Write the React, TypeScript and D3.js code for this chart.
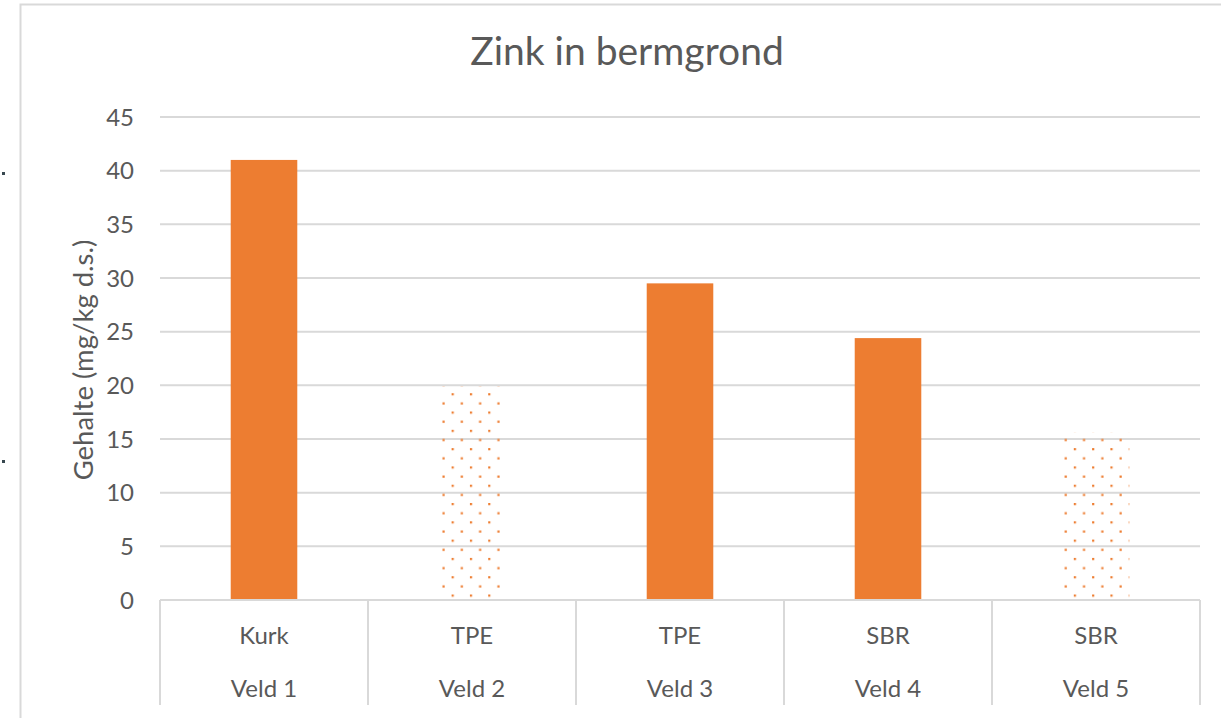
import React from 'react'
import * as d3 from 'd3'

// data
const materials = ['Kurk', 'TPE', 'TPE', 'SBR', 'SBR']
const fields = ['Veld 1', 'Veld 2', 'Veld 3', 'Veld 4', 'Veld 5']
const zinc = [41, 19.9, 29.5, 24.4, 15.6]
const dotted = [false, true, false, false, true]
const yTicks = [0, 5, 10, 15, 20, 25, 30, 35, 40, 45]

const W = 1221
const H = 718
const margin = {top: 117, right: 21, bottom: 118, left: 160}
const orange = '#ED7D31'
const grid = '#d9d9d9'
const textColor = '#595959'
const font = 'Lato, "Liberation Sans", sans-serif'

export default function App() {
  const innerW = W - margin.left - margin.right
  const innerH = H - margin.top - margin.bottom

  const x = d3.scaleBand<number>()
    .domain(d3.range(zinc.length))
    .range([0, innerW])
    .paddingInner(0.68)
    .paddingOuter(0.34)
  const cat = d3.scaleBand<number>()
    .domain(d3.range(zinc.length))
    .range([0, innerW])
  const y = d3.scaleLinear().domain([0, 45]).range([innerH, 0])

  return (
    <svg width={W} height={H} style={{position: 'fixed', left: 0, top: 0, background: '#fff'}}
      fontFamily={font}>
      <defs>
        <pattern id="dots" patternUnits="userSpaceOnUse" width={18.3} height={18.3} x={438} y={386}>
          <rect x={0} y={0} width={2.2} height={2.2} fill={orange} />
          <rect x={9.15} y={9.15} width={2.2} height={2.2} fill={orange} />
        </pattern>
      </defs>

      {/* chart frame, cropped at right and bottom */}
      <path d={`M${W + 2},4.5 H20.5 V${H + 2}`} fill="none" stroke={grid} strokeWidth={2} />
      <rect x={2} y={172} width={3} height={3} fill="#37474f" />
      <rect x={2} y={460} width={3} height={3} fill="#37474f" />

      <text x={627} y={65} textAnchor="middle" fontSize={39} fill={textColor}>Zink in bermgrond</text>

      <g transform={`translate(${margin.left},${margin.top})`}>
        {yTicks.map(t => (
          <g key={t}>
            {t > 0 && <line x1={0} x2={innerW} y1={y(t)} y2={y(t)} stroke={grid} strokeWidth={2} />}
            <text x={-26} y={y(t)} dy="0.36em" textAnchor="end" fontSize={24} fill={textColor}>{t}</text>
          </g>
        ))}

        {zinc.map((v, i) => (
          <rect key={i} x={x(i)} y={y(v)} width={x.bandwidth()} height={innerH - y(v)}
            fill={dotted[i] ? 'url(#dots)' : orange} />
        ))}

        {/* category axis */}
        <line x1={0} x2={innerW} y1={innerH} y2={innerH} stroke={grid} strokeWidth={2} />
        {d3.range(zinc.length + 1).map(i => {
          const xx = i < zinc.length ? cat(i)! : innerW
          return <line key={i} x1={xx} x2={xx} y1={innerH} y2={innerH + 105} stroke={grid} strokeWidth={2} />
        })}
        {materials.map((m, i) => (
          <text key={'m' + i} x={cat(i)! + cat.bandwidth() / 2} y={innerH + 44} textAnchor="middle"
            fontSize={24} fill={textColor}>{m}</text>
        ))}
        {fields.map((f, i) => (
          <text key={'f' + i} x={cat(i)! + cat.bandwidth() / 2} y={innerH + 97} textAnchor="middle"
            fontSize={24} fill={textColor}>{f}</text>
        ))}
      </g>

      <text transform={`translate(93,360) rotate(-90)`} textAnchor="middle" fontSize={27.5}
        fill={textColor}>Gehalte (mg/kg d.s.)</text>
    </svg>
  )
}
